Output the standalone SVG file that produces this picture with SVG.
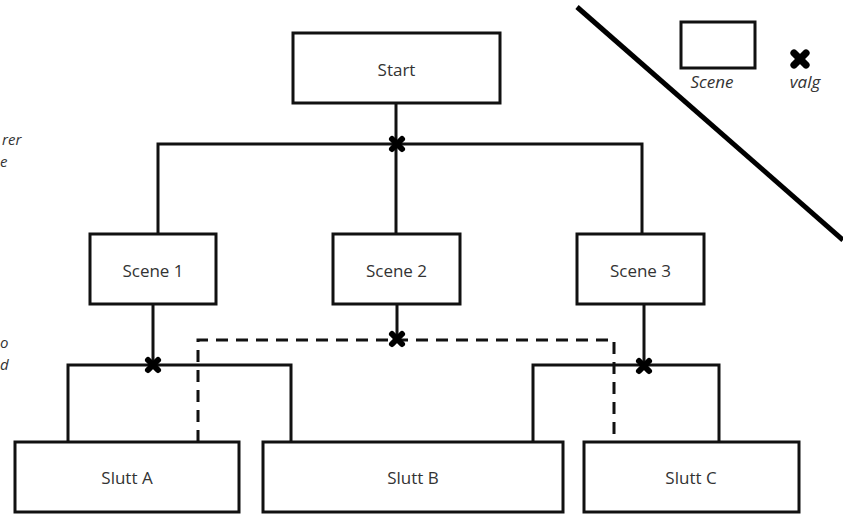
<svg xmlns="http://www.w3.org/2000/svg" width="843" height="514" viewBox="0 0 843 514">
<style>
.box{fill:#fff;stroke:#111;stroke-width:3}
.lbl{font-family:"Open Sans",sans-serif;font-size:17px;fill:#333;text-anchor:middle;dominant-baseline:central}
.it{font-family:"Open Sans",sans-serif;font-size:17px;font-style:italic;fill:#333}
.ln{fill:none;stroke:#111;stroke-width:3}
.dash{fill:none;stroke:#111;stroke-width:3;stroke-dasharray:12 8}
.x{stroke:#000;stroke-width:6;stroke-linecap:round}
</style>
<defs>
<g id="xm"><line class="x" x1="-5" y1="-5" x2="5" y2="5"/><line class="x" x1="-5" y1="5" x2="5" y2="-5"/></g>
</defs>
<rect width="843" height="514" fill="#fff"/>
<g id="side-text">
<text class="it" style="font-size:15px"><tspan x="2" y="145">rer</tspan><tspan x="0" y="167">e</tspan></text>
<text class="it" style="font-size:15px"><tspan x="0" y="348">o</tspan><tspan x="0" y="370">d</tspan></text>
</g>
<g id="connectors">
<line class="ln" x1="396" y1="103" x2="396" y2="233"/>
<polyline class="ln" points="158,233 158,144 642,144 642,233"/>
<polyline class="ln" points="153,305 153,365"/>
<polyline class="ln" points="68,442 68,365 291,365 291,442"/>
<polyline class="ln" points="644,305 644,365"/>
<polyline class="ln" points="533,442 533,365 719,365 719,442"/>
<line class="ln" x1="397" y1="305" x2="397" y2="340"/>
<polyline class="dash" points="198,442 198,340 614,340 614,442"/>
<line x1="577" y1="7" x2="843" y2="240" stroke="#000" stroke-width="5"/>
</g>
<g id="markers">
<use href="#xm" x="397" y="144"/>
<use href="#xm" x="153" y="365"/>
<use href="#xm" x="397" y="339"/>
<use href="#xm" x="644" y="366"/>
</g>
<g id="start"><rect class="box" x="293" y="33" width="207" height="70"/><text class="lbl" x="396.5" y="69">Start</text></g>
<g id="scene1"><rect class="box" x="90" y="234" width="126" height="70"/><text class="lbl" x="153" y="270">Scene 1</text></g>
<g id="scene2"><rect class="box" x="333" y="234" width="127" height="70"/><text class="lbl" x="396.5" y="270">Scene 2</text></g>
<g id="scene3"><rect class="box" x="577" y="234" width="127" height="70"/><text class="lbl" x="640.5" y="270">Scene 3</text></g>
<g id="sluttA"><rect class="box" x="15" y="442" width="224" height="70"/><text class="lbl" x="127" y="477">Slutt A</text></g>
<g id="sluttB"><rect class="box" x="263" y="442" width="300" height="70"/><text class="lbl" x="413" y="477">Slutt B</text></g>
<g id="sluttC"><rect class="box" x="584" y="442" width="215" height="70"/><text class="lbl" x="691" y="477">Slutt C</text></g>
<g id="legend">
<rect class="box" x="681" y="22" width="74" height="46"/>
<text class="it" x="712" y="88" text-anchor="middle">Scene</text>
<g transform="translate(800 59) scale(1.2)"><use href="#xm"/></g>
<text class="it" x="805" y="88" text-anchor="middle">valg</text>
</g>
</svg>
